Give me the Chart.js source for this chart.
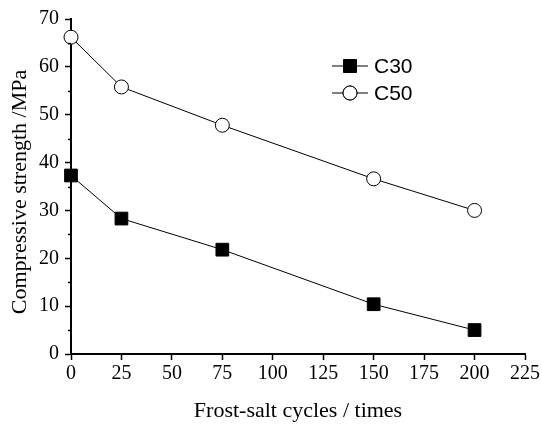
<!DOCTYPE html>
<html>
<head>
<meta charset="utf-8">
<script src="https://cdn.jsdelivr.net/npm/chart.js@4/dist/chart.umd.min.js"></script>
<style>
  html, body { margin: 0; padding: 0; background: #fff; }
  #wrap { width: 542px; height: 424px; }
</style>
</head>
<body>
<div id="wrap"><canvas id="chart" width="542" height="424"></canvas></div>
<script>
const cycles = [0, 25, 75, 150, 200];
const c30 = [37.3, 28.3, 21.8, 10.4, 5.0];
const c50 = [66.2, 55.8, 47.8, 36.6, 30.0];
const seriesNames = ['C30', 'C50'];

const serif = "'Liberation Serif', 'Times New Roman', serif";
const sans = "'Liberation Sans', Arial, sans-serif";

// minor ticks on y axis + legend drawn by hand
const extrasPlugin = {
    id: 'extras',
    afterDraw(chart) {
        const ctx = chart.ctx;
        const y = chart.scales.y;
        const left = chart.chartArea.left;
        ctx.save();
        ctx.strokeStyle = '#000';
        ctx.lineWidth = 1.5;
        for (let v = 5; v < 70; v += 10) {
            const py = Math.round(y.getPixelForValue(v)) + 0.5;
            ctx.beginPath();
            ctx.moveTo(left - 3, py);
            ctx.lineTo(left, py);
            ctx.stroke();
        }

        // legend
        const items = chart.data.datasets;
        const lx = 332, ly = 66, gap = 27;
        items.forEach((ds, i) => {
            const yy = ly + i * gap;
            ctx.lineWidth = 1;
            ctx.strokeStyle = '#000';
            ctx.beginPath();
            ctx.moveTo(lx, yy);
            ctx.lineTo(lx + 36, yy);
            ctx.stroke();
            Chart.helpers.drawPoint(ctx, {
                pointStyle: ds.pointStyle,
                radius: ds.pointRadius,
                borderWidth: 1
            }, lx + 18, yy);
            ctx.fillStyle = ds.pointBackgroundColor;
            ctx.strokeStyle = '#000';
            ctx.fill();
            ctx.stroke();
            ctx.fillStyle = '#000';
            ctx.font = '21px ' + sans;
            ctx.textBaseline = 'middle';
            ctx.fillText(ds.label, lx + 42, yy + 1);
        });
        ctx.restore();
    }
};

new Chart(document.getElementById('chart'), {
    type: 'line',
    data: {
        datasets: [{
            label: seriesNames[0],
            data: cycles.map((x, i) => ({ x: x, y: c30[i] })),
            borderColor: '#000',
            borderWidth: 1,
            pointStyle: 'rect',
            pointRadius: 9,
            pointBackgroundColor: '#000',
            pointBorderColor: '#000',
            pointBorderWidth: 1,
            clip: false
        }, {
            label: seriesNames[1],
            data: cycles.map((x, i) => ({ x: x, y: c50[i] })),
            borderColor: '#000',
            borderWidth: 1,
            pointStyle: 'circle',
            pointRadius: 7,
            pointBackgroundColor: '#fff',
            pointBorderColor: '#000',
            pointBorderWidth: 1,
            clip: false
        }]
    },
    options: {
        responsive: false,
        animation: false,
        layout: { padding: { top: 19, right: 14, left: 0, bottom: 0 } },
        plugins: {
            legend: { display: false },
            tooltip: { enabled: false }
        },
        scales: {
            x: {
                type: 'linear',
                min: 0,
                max: 225,
                afterFit(scale) { scale.height = 70; },
                ticks: {
                    stepSize: 25,
                    color: '#000',
                    font: { family: serif, size: 20 },
                    padding: 2,
                    maxRotation: 0
                },
                grid: {
                    drawOnChartArea: false,
                    tickLength: 6,
                    tickWidth: 1.5,
                    tickColor: '#000'
                },
                border: { color: '#000', width: 2 },
                title: {
                    display: true,
                    text: 'Frost-salt cycles / times',
                    color: '#000',
                    font: { family: serif, size: 22 },
                    padding: { top: 12, bottom: 0 }
                }
            },
            y: {
                min: 0,
                max: 70,
                afterFit(scale) { scale.width = 71; },
                ticks: {
                    stepSize: 10,
                    color: '#000',
                    font: { family: serif, size: 20 },
                    padding: 6
                },
                grid: {
                    drawOnChartArea: false,
                    tickLength: 6,
                    tickWidth: 1.5,
                    tickColor: '#000'
                },
                border: { color: '#000', width: 2 },
                title: {
                    display: true,
                    text: 'Compressive strength /MPa  ',
                    color: '#000',
                    font: { family: serif, size: 22 },
                    padding: { top: 7, bottom: 0 }
                }
            }
        }
    },
    plugins: [extrasPlugin]
});
</script>
</body>
</html>
